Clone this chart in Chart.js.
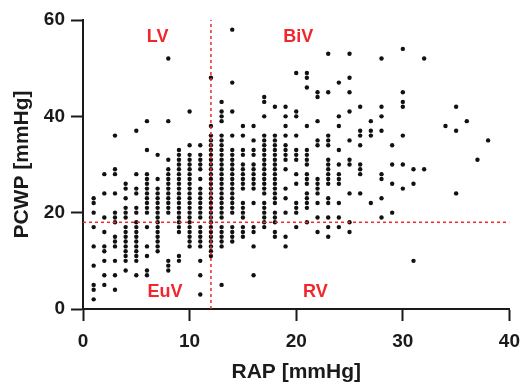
<!DOCTYPE html>
<html>
<head>
<meta charset="utf-8">
<script src="https://cdn.jsdelivr.net/npm/chart.js@4.4.1/dist/chart.umd.min.js"></script>
<style>
  body { margin: 0; background: #fff; }
  canvas { display: block; }
</style>
</head>
<body>
<canvas id="scatter" width="529" height="389"></canvas>
<script>
// RAP values (x) with the PCWP values (y) read for each column
const rapValues = [1, 2, 3, 4, 5, 6, 7, 8, 9, 10, 11, 12, 13, 14, 15, 16, 17, 18, 19, 20,
                   21, 22, 23, 24, 25, 26, 27, 28, 29, 30, 31, 32, 34, 35, 36, 37, 38]
const pcwpColumns = [
  [23, 22, 20, 17, 13, 9, 5, 4, 2],
  [28, 24, 19, 16, 13, 12, 10, 7, 5],
  [36, 29, 28, 24, 20, 19, 18, 15, 14, 13, 10, 7, 4],
  [26, 25, 23, 21, 20, 19, 17, 16, 15, 14, 13, 12, 11, 10, 8],
  [37, 28, 25, 24, 21, 20, 18, 17, 16, 15, 14, 13, 12, 11, 10, 7],
  [39, 33, 28, 27, 26, 25, 24, 23, 22, 21, 20, 17, 13, 11, 8, 7],
  [32, 27, 25, 24, 23, 22, 21, 20, 19, 18, 17, 16, 15, 14, 13, 12],
  [52, 39, 31, 29, 28, 27, 26, 25, 24, 23, 22, 21, 20, 10, 9, 8],
  [33, 32, 31, 30, 29, 28, 27, 26, 25, 24, 23, 22, 21, 20, 19, 18, 17, 16, 11, 10],
  [41, 34, 32, 31, 30, 29, 28, 27, 26, 25, 24, 23, 22, 21, 20, 19, 18, 17, 16, 15, 14, 13],
  [34, 32, 31, 30, 29, 27, 25, 24, 23, 22, 21, 20, 19, 17, 16, 15, 14, 13, 10, 7, 3],
  [48, 38, 36, 35, 34, 33, 32, 31, 30, 29, 28, 27, 26, 25, 24, 23, 22, 21, 20, 19, 18, 17, 16, 15, 14, 13, 12, 11],
  [43, 41, 40, 39, 36, 35, 34, 33, 32, 31, 30, 29, 28, 27, 26, 25, 24, 23, 22, 21, 20, 19, 17, 16, 15, 14, 13, 5],
  [58, 47, 41, 36, 33, 32, 31, 30, 29, 28, 27, 26, 25, 24, 23, 22, 21, 20, 17, 16, 15, 14],
  [38, 36, 33, 32, 30, 29, 28, 27, 26, 25, 22, 21, 20, 19, 17, 16, 15],
  [38, 35, 33, 32, 30, 29, 28, 27, 26, 25, 22, 17, 16, 13, 7],
  [44, 43, 40, 36, 35, 34, 33, 32, 31, 30, 29, 28, 27, 26, 25, 24, 22, 21, 20, 19, 18, 17],
  [42, 36, 35, 34, 33, 32, 31, 30, 29, 28, 27, 26, 25, 24, 23, 22, 20, 19, 18, 16, 15],
  [42, 40, 38, 36, 34, 33, 32, 31, 29, 25, 23, 20, 15, 13],
  [49, 41, 40, 36, 33, 32, 31, 28, 26, 22, 21, 20, 17],
  [49, 48, 46, 38, 33, 32, 31, 30, 28, 27, 26, 24, 23, 22, 21, 18],
  [45, 44, 39, 35, 34, 27, 26, 25, 24, 22, 19, 16],
  [53, 45, 36, 35, 34, 31, 30, 29, 28, 27, 26, 23, 22, 19, 17, 15],
  [47, 40, 38, 33, 30, 28, 27, 26, 22, 19, 17],
  [53, 48, 45, 41, 35, 31, 30, 24, 18, 16],
  [42, 37, 36, 34, 30, 29, 28, 24],
  [39, 37, 36, 22],
  [52, 42, 40, 37, 28, 27, 23, 19],
  [34, 30, 26, 20],
  [54, 45, 43, 42, 36, 30, 25],
  [29, 26, 10],
  [52, 29],
  [38],
  [42, 37, 24],
  [39],
  [31],
  [35]
]

// cut-offs for the quadrants
const rapCut = 12
const pcwpCut = 18
const quadrantLabels = ['LV', 'BiV', 'EuV', 'RV']

const ink = '#1a1a1a'
const red = '#f0282d'
const font = 'Liberation Sans, Arial, sans-serif'

// build the point list from the columns
let points = []
for (let i = 0; i < rapValues.length; i++) {
    for (let j = 0; j < pcwpColumns[i].length; j++) {
        points.push({x: rapValues[i], y: pcwpColumns[i][j]})
    }
}

// draws the red quadrant names
const quadrantText = {
    id: 'quadrantText',
    afterDatasetsDraw(chart) {
        const {ctx, scales} = chart
        const spots = [[7.0, 56.4], [20.2, 56.4], [7.7, 3.5], [21.8, 3.5]]
        ctx.save()
        ctx.fillStyle = red
        ctx.font = 'bold 18px ' + font
        ctx.textAlign = 'center'
        ctx.textBaseline = 'middle'
        for (let i = 0; i < quadrantLabels.length; i++) {
            ctx.fillText(quadrantLabels[i],
                scales.x.getPixelForValue(spots[i][0]),
                scales.y.getPixelForValue(spots[i][1]))
        }
        ctx.restore()
    }
}

const lineStyle = {
    showLine: true,
    borderColor: red,
    borderWidth: 1.5,
    borderDash: [3, 3],
    pointRadius: 0
}

const scatter = new Chart(document.getElementById('scatter'), {
    type: 'scatter',
    data: {
        datasets: [
            Object.assign({data: [{x: rapCut, y: 0}, {x: rapCut, y: 60}]}, lineStyle),
            Object.assign({data: [{x: 0, y: pcwpCut}, {x: 40, y: pcwpCut}]}, lineStyle),
            {
                data: points,
                backgroundColor: '#111',
                pointRadius: 2.2,
                pointBorderWidth: 0
            }
        ]
    },
    options: {
        responsive: false,
        animation: false,
        layout: {padding: {top: 20, right: 11, left: 0, bottom: 0}},
        plugins: {legend: {display: false}, tooltip: {enabled: false}},
        scales: {
            x: {
                type: 'linear', min: 0, max: 40,
                ticks: {stepSize: 10, color: ink, padding: 9, font: {family: font, size: 19, weight: 'bold'}},
                grid: {drawOnChartArea: false, tickLength: 12, tickWidth: 2, tickColor: ink},
                border: {color: ink, width: 2},
                title: {display: true, text: 'RAP [mmHg]', color: ink,
                        padding: {top: 0, bottom: 4}, font: {family: font, size: 21, weight: 'bold'}},
                afterFit(s) { s.height = 80 }
            },
            y: {
                type: 'linear', min: 0, max: 60,
                ticks: {stepSize: 20, color: ink, padding: 6, font: {family: font, size: 19, weight: 'bold'}},
                grid: {drawOnChartArea: false, tickLength: 12, tickWidth: 2, tickColor: ink},
                border: {color: ink, width: 2},
                title: {display: true, text: 'PCWP [mmHg]', color: ink,
                        padding: {top: 10, bottom: 0}, font: {family: font, size: 21, weight: 'bold'}},
                afterFit(s) { s.width = 83 }
            }
        }
    },
    plugins: [quadrantText]
})
</script>
</body>
</html>
